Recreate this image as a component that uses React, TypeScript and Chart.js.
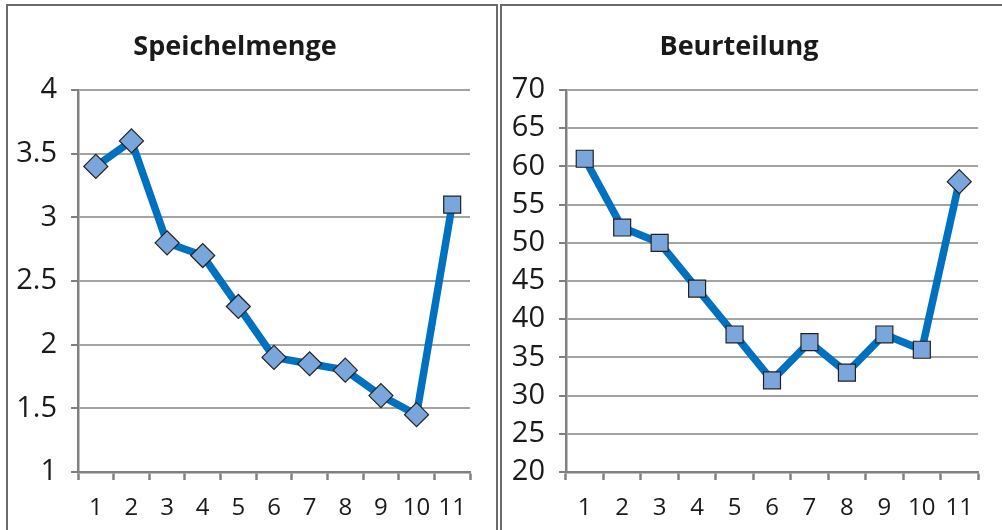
import React, { useEffect, useRef } from "react";
import { Chart, registerables } from "chart.js";

Chart.register(...registerables);

const categories = ["1", "2", "3", "4", "5", "6", "7", "8", "9", "10", "11"];
const speichelValues = [3.4, 3.6, 2.8, 2.7, 2.3, 1.9, 1.85, 1.8, 1.6, 1.45, 3.1];
const beurteilungValues = [61, 52, 50, 44, 38, 32, 37, 33, 38, 36, 58];
const speichelStyles = ["rectRot", "rectRot", "rectRot", "rectRot", "rectRot", "rectRot", "rectRot", "rectRot", "rectRot", "rectRot", "rect"];
const beurteilungStyles = ["rect", "rect", "rect", "rect", "rect", "rect", "rect", "rect", "rect", "rect", "rectRot"];
const speichelTitle = "Speichelmenge";
const beurteilungTitle = "Beurteilung";

const FONT = "'Open Sans', 'DejaVu Sans', sans-serif";

function makeConfig(
  title: string,
  values: number[],
  styles: string[],
  min: number,
  max: number,
  step: number,
  yWidth: number,
  padRight: number
): any {
  return {
    type: "line",
    data: {
      labels: categories,
      datasets: [
        {
          data: values,
          borderColor: "#0070c0",
          borderWidth: 7.5,
          tension: 0,
          pointStyle: styles,
          pointRadius: 12,
          pointHoverRadius: 12,
          pointBackgroundColor: "#7ba6db",
          pointBorderColor: "#222222",
          pointBorderWidth: 1.2,
          clip: false,
        },
      ],
    },
    options: {
      animation: false,
      responsive: false,
      layout: { padding: { left: 0, right: padRight, top: 0, bottom: 8 } },
      plugins: {
        legend: { display: false },
        tooltip: { enabled: false },
        title: {
          display: true,
          text: title,
          color: "#1a1a1a",
          font: { family: FONT, size: 27, weight: "bold", lineHeight: 1.2 },
          padding: { top: 31, bottom: 26.6 },
        },
      },
      scales: {
        x: {
          type: "category",
          offset: true,
          grid: {
            display: true,
            drawOnChartArea: false,
            drawTicks: true,
            offset: true,
            tickLength: 8,
            tickColor: "#808080",
            tickWidth: 2.5,
          },
          border: { display: true, color: "#808080", width: 2.5 },
          ticks: {
            color: "#1a1a1a",
            font: { family: FONT, size: 24 },
            padding: 14,
            maxRotation: 0,
            autoSkip: false,
          },
          afterFit: (scale: any) => {
            scale.height = 50;
          },
        },
        y: {
          min,
          max,
          grid: {
            color: "#a3a3a3",
            lineWidth: 2,
            tickLength: 7,
            tickColor: "#808080",
            tickWidth: 2,
          },
          border: { display: true, color: "#808080", width: 2.5 },
          ticks: {
            stepSize: step,
            color: "#1a1a1a",
            font: { family: FONT, size: 29 },
            padding: 14,
            callback: (v: any) => String(v),
          },
          afterFit: (scale: any) => {
            scale.width = yWidth;
          },
        },
      },
    },
  };
}

function ChartCanvas(props: { config: any; left: number; width: number }) {
  const ref = useRef<HTMLCanvasElement | null>(null);
  useEffect(() => {
    if (!ref.current) return;
    const chart = new Chart(ref.current, props.config);
    return () => chart.destroy();
  }, []);
  return (
    <canvas
      ref={ref}
      width={props.width}
      height={530}
      style={{ position: "absolute", left: props.left, top: 0, width: props.width, height: 530 }}
    />
  );
}

export default function App() {
  const leftCfg = makeConfig(speichelTitle, speichelValues, speichelStyles, 1, 4, 0.5, 78, 59);
  const rightCfg = makeConfig(beurteilungTitle, beurteilungValues, beurteilungStyles, 20, 70, 5, 66, 75);
  return (
    <div
      style={{
        position: "fixed",
        left: 0,
        top: 0,
        width: 1002,
        height: 530,
        overflow: "hidden",
        background: "#ffffff",
      }}
    >
      <div
        style={{
          position: "absolute",
          left: 6,
          top: 4,
          width: 492,
          height: 600,
          boxSizing: "border-box",
          border: "2px solid #6b6b6b",
        }}
      />
      <div
        style={{
          position: "absolute",
          left: 500,
          top: 4,
          width: 600,
          height: 600,
          boxSizing: "border-box",
          border: "2px solid #6b6b6b",
        }}
      />
      <ChartCanvas config={leftCfg} left={0} width={529} />
      <ChartCanvas config={rightCfg} left={500} width={553} />
    </div>
  );
}
